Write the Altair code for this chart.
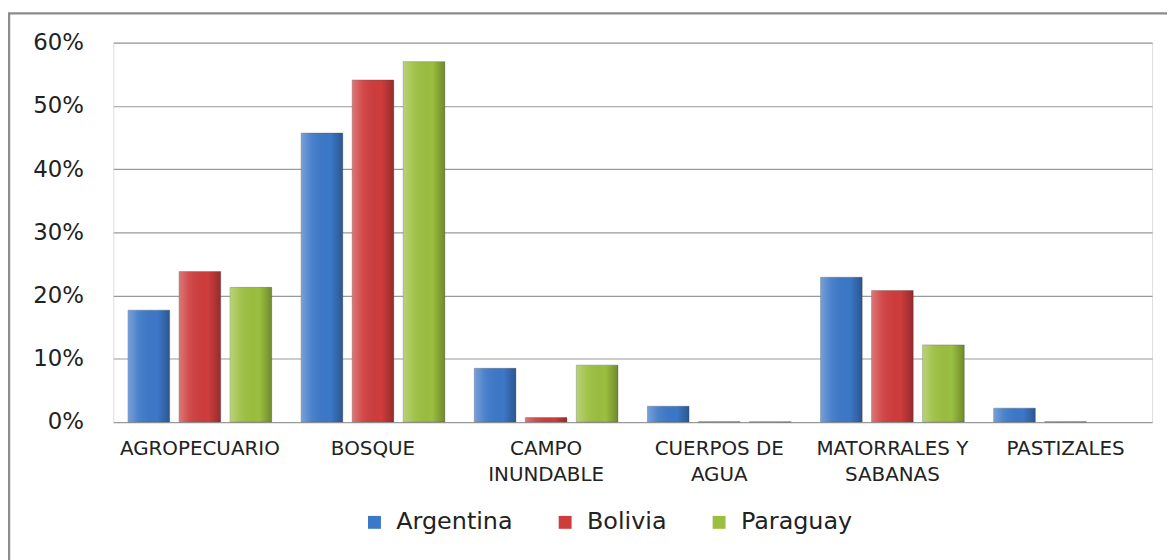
import altair as alt
import pandas as pd

categories = ["AGROPECUARIO", "BOSQUE", "CAMPO INUNDABLE", "CUERPOS DE AGUA",
              "MATORRALES Y SABANAS", "PASTIZALES"]
countries = ["Argentina", "Bolivia", "Paraguay"]
argentina = [0.177, 0.457, 0.085, 0.025, 0.229, 0.022]
bolivia = [0.238, 0.541, 0.007, 0.0005, 0.208, 0.0005]
paraguay = [0.213, 0.570, 0.090, 0.0005, 0.122, 0.0]
colors = ["#3c78c8", "#cf3c3c", "#9bbf3f"]
y_ticks = [0, 0.1, 0.2, 0.3, 0.4, 0.5, 0.6]
label_lines = {
    "CAMPO INUNDABLE": ["CAMPO", "INUNDABLE"],
    "CUERPOS DE AGUA": ["CUERPOS DE", "AGUA"],
    "MATORRALES Y SABANAS": ["MATORRALES Y", "SABANAS"],
}

rows = []
for series, vals in zip(countries, [argentina, bolivia, paraguay]):
    for c, v in zip(categories, vals):
        rows.append({"categoria": c, "pais": series, "valor": v})
df = pd.DataFrame(rows)

parts = [f"datum.value == '{k}' ? ['{v[0]}', '{v[1]}']" for k, v in label_lines.items()]
label_expr = " : ".join(parts) + " : datum.value"

W, H = 1046, 382
FONT = "DejaVu Sans"

x_enc = alt.X("categoria:N", sort=categories, title=None,
              scale=alt.Scale(domain=categories, paddingInner=0.17, paddingOuter=0.085),
              axis=alt.Axis(labelAngle=0, ticks=False, domain=False, labelFont=FONT,
                            labelFontSize=20, labelColor="#222222", labelPadding=17,
                            labelLineHeight=26, labelExpr=label_expr, labelLimit=300))
xo_enc = alt.XOffset("pais:N", sort=countries,
                     scale=alt.Scale(domain=countries, paddingInner=0.184, paddingOuter=0))
y_enc = alt.Y("valor:Q", title=None,
              scale=alt.Scale(domain=[0, 0.6], nice=False),
              axis=alt.Axis(values=y_ticks, format=".0%", ticks=False, domain=False,
                            labelFont=FONT, labelFontSize=23, labelColor="#222222",
                            labelPadding=30, gridColor="#9a9a9a", gridWidth=1.2))

bars = alt.Chart(df).transform_filter("datum.valor > 0").mark_bar(
    stroke="#555555", strokeOpacity=0.35, strokeWidth=1).encode(
    x=x_enc, xOffset=xo_enc, y=y_enc,
    color=alt.Color("pais:N", sort=countries, title=None,
                    scale=alt.Scale(domain=countries, range=colors),
                    legend=alt.Legend(orient="none", legendX=251, legendY=471,
                                      direction="horizontal", symbolType="square",
                                      symbolSize=169, symbolStrokeWidth=0,
                                      labelFont=FONT, labelFontSize=24,
                                      labelColor="#222222", labelOffset=10,
                                      columnPadding=40, padding=0)),
)

shade = alt.Chart(df).transform_filter("datum.valor > 0").mark_bar(
    fill=alt.LinearGradient(
        gradient="linear", x1=0, x2=1, y1=0, y2=0,
        stops=[alt.GradientStop(offset=0, color="rgba(255,255,255,0.30)"),
               alt.GradientStop(offset=0.25, color="rgba(255,255,255,0.08)"),
               alt.GradientStop(offset=0.7, color="rgba(0,0,0,0.0)"),
               alt.GradientStop(offset=1, color="rgba(0,0,0,0.28)")]),
).encode(x=alt.X("categoria:N", sort=categories), xOffset=alt.XOffset("pais:N", sort=countries),
         y="valor:Q")

frame = alt.Chart(alt.Data(values=[{"a": 1}])).mark_rect(
    fill=None, stroke="#8c8c8c", strokeWidth=2.5
).encode(x=alt.value(-105), x2=alt.value(1200), y=alt.value(-29.5), y2=alt.value(600))

chart = alt.layer(bars, shade, frame).properties(
    width=W, height=H,
    padding={"left": 106, "top": 33, "right": 15, "bottom": 137},
    autosize=alt.AutoSizeParams(type="none"),
).configure_view(stroke=None).configure(background="white")

chart.save("out.html", embed_options={"renderer": "svg", "actions": False})
